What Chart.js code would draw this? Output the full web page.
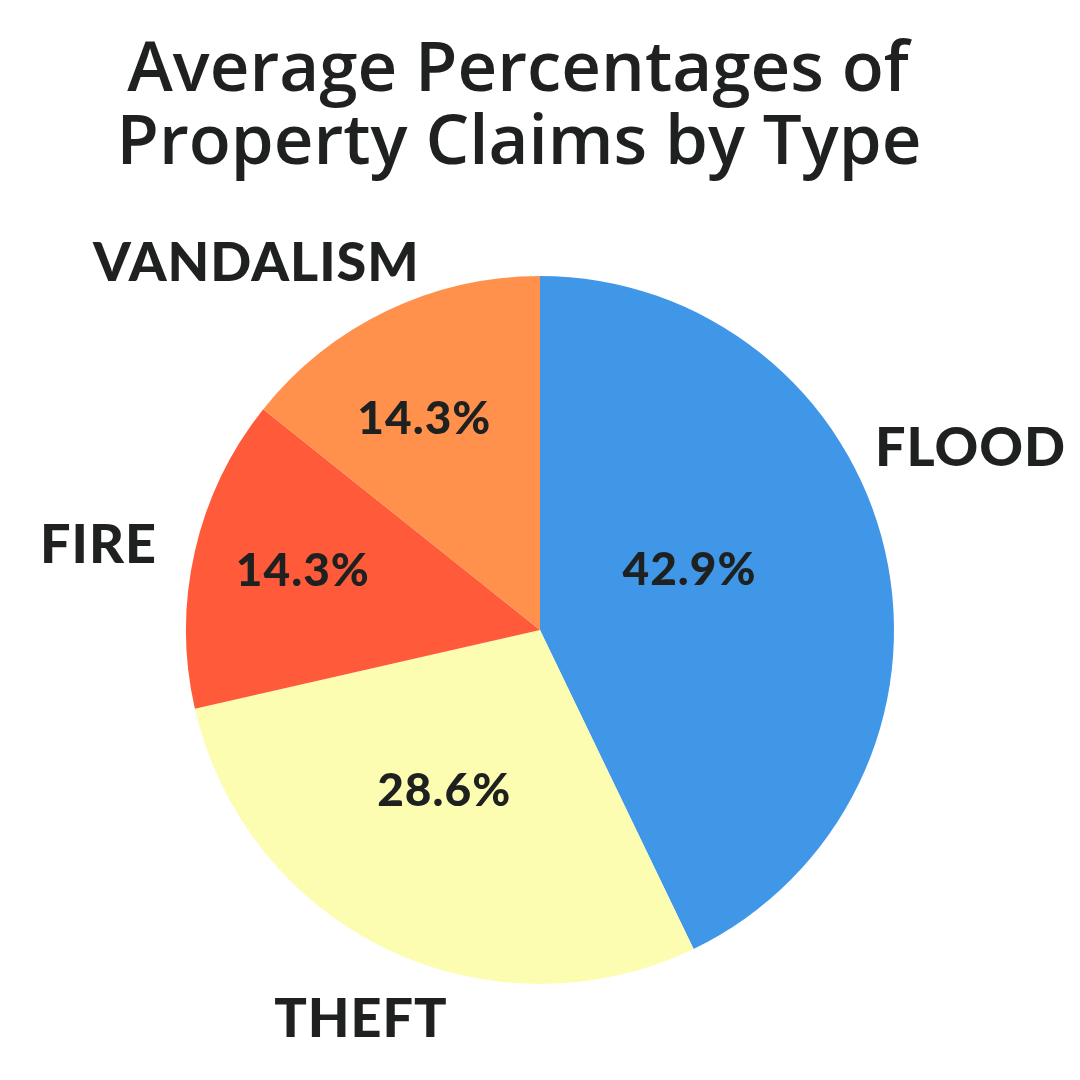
<!DOCTYPE html>
<html>
<head>
<meta charset="utf-8">
<script src="https://cdn.jsdelivr.net/npm/chart.js@4/dist/chart.umd.min.js"></script>
<style>
    html, body { margin: 0; padding: 0; background: #ffffff; }
    #wrap { width: 1080px; height: 1080px; }
</style>
</head>
<body>
<div id="wrap"><canvas id="pie"></canvas></div>
<script>
// Chart data
const titleLines = ['Average Percentages of', 'Property Claims by Type'];
const categories = ['FLOOD', 'THEFT', 'FIRE', 'VANDALISM'];
const shares = [42.9, 28.6, 14.3, 14.3];
const sliceColors = ['#4097E8', '#FDFDB1', '#FF5A3A', '#FF914D'];

// label placement relative to each slice middle (degrees shift, radius factor)
const outerShift = [-10, -1, -2, -12];
const outerDist = [1.32, 1.21, 1.27, 1.31];
const innerShift = [-9, 5, 1, -3];
const innerDist = [0.455, 0.53, 0.69, 0.68];

const textColor = '#1E2120';

const labelPlugin = {
    id: 'sliceLabels',
    afterDraw(chart) {
        const ctx = chart.ctx;
        const meta = chart.getDatasetMeta(0);
        ctx.save();
        ctx.fillStyle = textColor;
        ctx.textAlign = 'center';

        // title
        ctx.textBaseline = 'alphabetic';
        ctx.font = '600 69px "Open Sans"';
        ctx.letterSpacing = '0px';
        ctx.fillText(titleLines[0], 518, 91);
        ctx.fillText(titleLines[1], 519, 164);

        ctx.textBaseline = 'middle';
        meta.data.forEach((arc, i) => {
            const p = arc.getProps(['x', 'y', 'startAngle', 'endAngle', 'outerRadius'], true);
            const mid = (p.startAngle + p.endAngle) / 2;
            const a1 = mid + outerShift[i] * Math.PI / 180;
            const a2 = mid + innerShift[i] * Math.PI / 180;

            ctx.letterSpacing = '1px';
            ctx.font = '900 54px Lato';
            ctx.fillText(categories[i],
                p.x + Math.cos(a1) * p.outerRadius * outerDist[i],
                p.y + Math.sin(a1) * p.outerRadius * outerDist[i]);

            ctx.font = '900 46px Lato';
            ctx.fillText(shares[i].toFixed(1) + '%',
                p.x + Math.cos(a2) * p.outerRadius * innerDist[i],
                p.y + Math.sin(a2) * p.outerRadius * innerDist[i]);
        });
        ctx.restore();
    }
};

new Chart(document.getElementById('pie').getContext('2d'), {
    type: 'pie',
    data: {
        labels: categories,
        datasets: [{
            data: shares,
            backgroundColor: sliceColors,
            borderWidth: 0
        }]
    },
    options: {
        responsive: true,
        maintainAspectRatio: false,
        animation: false,
        layout: {
            padding: { top: 276, bottom: 96, left: 100, right: 100 }
        },
        plugins: {
            legend: { display: false },
            title: { display: false },
            tooltip: { enabled: false }
        }
    },
    plugins: [labelPlugin]
});
</script>
</body>
</html>
